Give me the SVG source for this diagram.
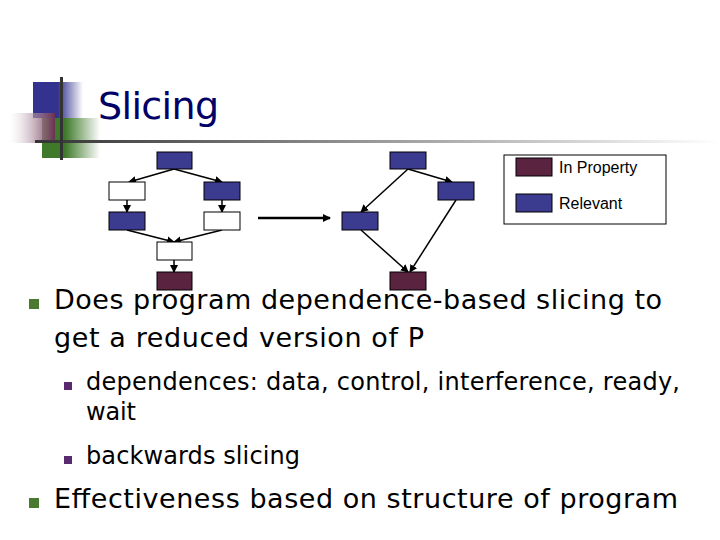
<svg xmlns="http://www.w3.org/2000/svg" width="720" height="540" viewBox="0 0 720 540">
<defs>
<style>
.b{fill:#3b3b8f;stroke:#000;stroke-width:1}
.m{fill:#5a2340;stroke:#000;stroke-width:1}
.w{fill:#fff;stroke:#000;stroke-width:1}
.e{stroke:#000;stroke-width:1.5;fill:none;marker-end:url(#a)}
.t{font-family:"Liberation Sans",Arial,sans-serif;fill:#000}
.v{font-family:"DejaVu Sans",Verdana,sans-serif;fill:#000}
.g{fill:#4a7a30}
.p{fill:#5a2a70}
</style>
<marker id="a" markerWidth="8" markerHeight="8" refX="7" refY="4" orient="auto" markerUnits="userSpaceOnUse"><path d="M0,0L8,4L0,8z" fill="#000"/></marker>
<linearGradient id="hl" x1="0" x2="1"><stop offset="0" stop-color="#333"/><stop offset="1" stop-color="#fff"/></linearGradient>
<linearGradient id="gb" x1="0" x2="1"><stop offset="0.5" stop-color="#33338f"/><stop offset="1" stop-color="#33338f" stop-opacity="0"/></linearGradient>
<linearGradient id="gg" x1="0" x2="1"><stop offset="0.4" stop-color="#3f7a2a"/><stop offset="1" stop-color="#3f7a2a" stop-opacity="0"/></linearGradient>
<linearGradient id="gp" x1="0" x2="1"><stop offset="0" stop-color="#fff" stop-opacity="0.3"/><stop offset="1" stop-color="#6a3050"/></linearGradient>
</defs>
<g id="decor">
<rect x="33" y="82" width="50" height="36" fill="url(#gb)"/>
<rect x="42" y="118" width="58" height="40" fill="url(#gg)"/>
<rect x="10" y="113" width="45" height="30" fill="url(#gp)"/>
<rect x="35" y="140" width="685" height="3" fill="url(#hl)"/>
<rect x="60" y="77" width="3" height="83" fill="#333"/>
</g>
<text class="v" x="98" y="119" font-size="38" textLength="121" style="fill:#000066">Slicing</text>
<g id="connectors">
<path class="e" d="M174,169L129,182"/>
<path class="e" d="M174,169L222,182"/>
<path class="e" d="M127,200L127,212"/>
<path class="e" d="M222,200L222,212"/>
<path class="e" d="M127,230L174,242"/>
<path class="e" d="M222,230L174,242"/>
<path class="e" d="M174,260L174,272"/>
<path class="e" d="M258,218L330,218" style="stroke-width:2.5"/>
<path class="e" d="M408,169L452,182"/>
<path class="e" d="M408,169L361,212"/>
<path class="e" d="M361,230L408,272"/>
<path class="e" d="M456,200L410,272"/>
</g>
<g id="n1"><rect class="b" x="157" y="152" width="35" height="17"/></g>
<g id="n2"><rect class="w" x="109" y="182" width="36" height="18"/></g>
<g id="n3"><rect class="b" x="204" y="182" width="36" height="18"/></g>
<g id="n4"><rect class="b" x="109" y="212" width="36" height="18"/></g>
<g id="n5"><rect class="w" x="204" y="212" width="36" height="18"/></g>
<g id="n6"><rect class="w" x="157" y="242" width="35" height="18"/></g>
<g id="n7"><rect class="m" x="157" y="272" width="35" height="18"/></g>
<g id="r1"><rect class="b" x="390" y="152" width="36" height="17"/></g>
<g id="r2"><rect class="b" x="438" y="182" width="36" height="18"/></g>
<g id="r3"><rect class="b" x="342" y="212" width="36" height="18"/></g>
<g id="r4"><rect class="m" x="390" y="272" width="36" height="18"/></g>
<g id="legend">
<rect x="504" y="155" width="162" height="69" fill="#fff" stroke="#000"/>
<rect class="m" x="516" y="158" width="36" height="18"/>
<rect class="b" x="516" y="194" width="36" height="18"/>
<text class="t" x="559" y="173" font-size="16">In Property</text>
<text class="t" x="559" y="209" font-size="16">Relevant</text>
</g>
<g id="text">
<rect class="g" x="29" y="299" width="10" height="10"/>
<text class="v" x="54" y="309" font-size="27" textLength="608">Does program dependence-based slicing to</text>
<text class="v" x="54" y="347" font-size="27" textLength="370">get a reduced version of P</text>
<rect class="p" x="64" y="382" width="8" height="8"/>
<text class="v" x="86" y="390" font-size="24" textLength="594">dependences: data, control, interference, ready,</text>
<text class="v" x="86" y="420" font-size="24" textLength="50">wait</text>
<rect class="p" x="64" y="456" width="8" height="8"/>
<text class="v" x="86" y="464" font-size="24" textLength="214">backwards slicing</text>
<rect class="g" x="29" y="498" width="10" height="10"/>
<text class="v" x="54" y="508" font-size="27" textLength="624">Effectiveness based on structure of program</text>
</g>
</svg>
